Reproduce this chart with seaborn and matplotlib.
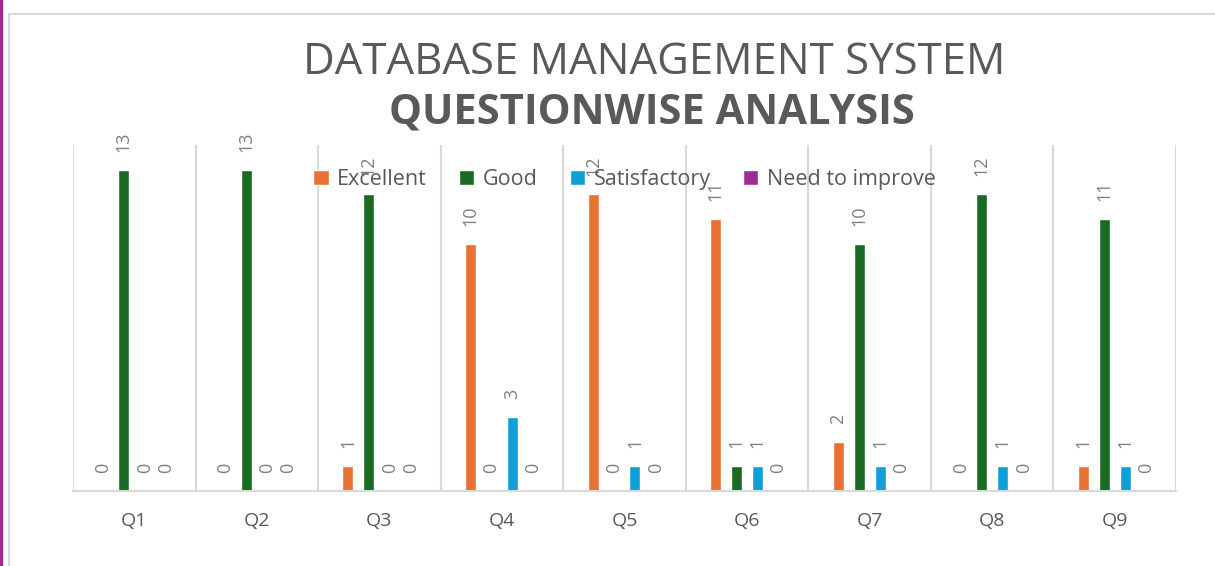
import matplotlib
matplotlib.use("Agg")
import matplotlib.pyplot as plt
from matplotlib.lines import Line2D
import seaborn as sns
import pandas as pd
import numpy as np

# chart data
questions = ["Q1", "Q2", "Q3", "Q4", "Q5", "Q6", "Q7", "Q8", "Q9"]
series = ["Excellent", "Good", "Satisfactory", "Need to improve"]
excellent = [0, 0, 1, 10, 12, 11, 2, 0, 1]
good = [13, 13, 12, 0, 0, 1, 10, 12, 11]
satisfactory = [0, 0, 0, 3, 1, 1, 1, 1, 1]
need_improve = [0, 0, 0, 0, 0, 0, 0, 0, 0]
colors = ["#E97132", "#196B24", "#0F9ED5", "#A02B93"]

df = pd.DataFrame({
    "question": questions * 4,
    "rating": np.repeat(series, len(questions)),
    "count": excellent + good + satisfactory + need_improve,
})

sns.set_theme(style="white")
plt.rcParams["font.family"] = ["Open Sans", "DejaVu Sans"]

W, H = 1215, 566
fig = plt.figure(figsize=(W / 100, H / 100), dpi=100)
ax = fig.add_axes([73 / W, 1 - 491 / H, (1176 - 73) / W, (491 - 145) / H])

sns.barplot(data=df, x="question", y="count", hue="rating", hue_order=series,
            palette=colors, saturation=1, width=0.685, gap=0.476, ax=ax)

grey = "#595959"
for c in ax.containers:
    ax.bar_label(c, fmt="%d", rotation=90, padding=13, color="#808080", fontsize=13)

ax.set_ylim(0, 14)
ax.set_xlim(-0.5, 8.5)
ax.set_xlabel("")
ax.set_ylabel("")
ax.set_yticks([])
ax.set_xticks(np.arange(-0.5, 9, 1), minor=True)
ax.set_axisbelow(True)
ax.grid(which="minor", axis="x", color="#d9d9d9", lw=1.5)
ax.tick_params(axis="x", which="both", length=0, pad=15, labelcolor=grey, labelsize=14)
for s in ["top", "right", "left"]:
    ax.spines[s].set_visible(False)
ax.spines["bottom"].set_color("#d9d9d9")
ax.spines["bottom"].set_linewidth(1.5)

ax.legend(loc="center", bbox_to_anchor=(0.5, 0.899), ncol=4, frameon=False,
          fontsize=15.5, handlelength=0.7, handleheight=0.7, handletextpad=0.4,
          columnspacing=1.5, labelcolor=grey, borderaxespad=0)

fig.text(654 / W, 1 - 74 / H, "DATABASE MANAGEMENT SYSTEM", ha="center", va="baseline",
         fontsize=31.5, color=grey)
fig.text(652 / W, 1 - 124 / H, "QUESTIONWISE ANALYSIS", ha="center", va="baseline",
         fontsize=30, fontweight="bold", color=grey)

# chart frame and left edge line
fig.add_artist(Line2D([9 / W, 1], [1 - 14 / H] * 2, transform=fig.transFigure,
                      color="#d9d9d9", lw=1.5))
fig.add_artist(Line2D([9 / W, 9 / W], [0, 1 - 14 / H], transform=fig.transFigure,
                      color="#d9d9d9", lw=1.5))
fig.add_artist(Line2D([1 / W, 1 / W], [0, 1], transform=fig.transFigure,
                      color="#A02B93", lw=2.5))

fig.savefig("out.png", dpi=100)
